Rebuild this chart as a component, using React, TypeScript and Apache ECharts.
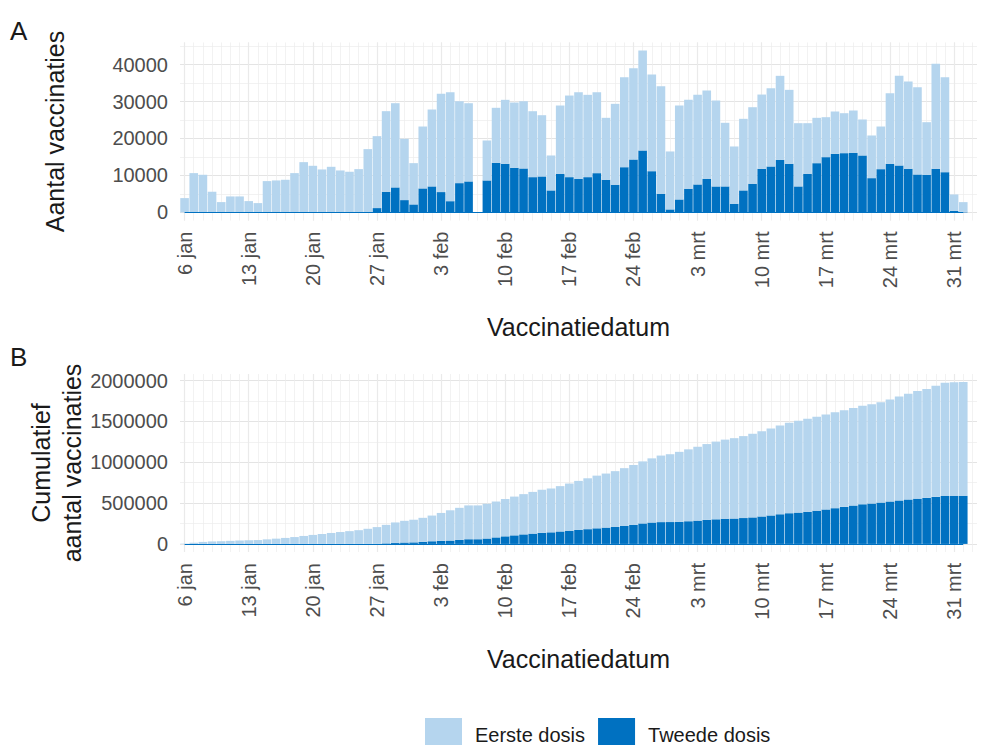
import React, { useEffect, useRef } from 'react';
import * as echarts from 'echarts';

// Categories: consecutive days from 6 jan 2021; the last day (2 apr) is empty
const START_DATE = Date.UTC(2021, 0, 6);
const MONTHS = ['jan', 'feb', 'mrt', 'apr'];
const NUM_DAYS = 87;
const dayLabel = (i: number) => {
  const d = new Date(START_DATE + i * 86400000);
  return `${d.getUTCDate()} ${MONTHS[d.getUTCMonth()]}`;
};
const days = Array.from({ length: NUM_DAYS }, (_, i) => dayLabel(i));

// Daily values (6 jan .. 1 apr)
const eersteDosis = [
  3870, 10630, 10180, 5590, 2790, 4320, 4320, 3060, 2520, 8470, 8650, 8830, 10630, 13600, 12610, 11620, 12340, 11350, 11000, 11710, 17120,
  19460, 21800, 22790, 16580, 11170, 16750, 20810, 26590, 29460, 22160, 21160,
  0,
  10810, 14870, 17300, 17650, 18190, 17840, 16570, 9450, 18460, 22080, 23400, 22270, 21890, 16750, 21890, 24330, 24680, 27020, 26140, 29090, 15680,
  25410, 24050, 24240, 23860, 23240, 17210, 15490, 19370, 20700, 20080, 21160, 22710, 20000, 17110, 13680, 12270, 10810, 11440, 10810, 11430, 9730,
  11540, 11540, 19080, 24250, 23600, 23590, 14220, 28380, 25680, 4460, 2630,
];
const tweedeDosis = [
  0, 0, 0, 0, 0, 0, 0, 0, 0, 0, 0, 0, 0, 0, 0, 0, 0, 0, 0, 0, 0,
  1170, 5590, 6760, 3330, 2160, 6490, 7030, 5490, 3050, 7920, 8380,
  0,
  8650, 13430, 13160, 12080, 11890, 9540, 9730, 5950, 10460, 9540, 9110, 9540, 10620, 8840, 7490, 12240, 14320, 16760, 11160, 5050, 810,
  3510, 6410, 7570, 9110, 7030, 7030, 2350, 5950, 7760, 11810, 12430, 14240, 13160, 7030, 10460, 13320, 14950, 15860, 16030, 16140, 15410,
  9270, 11700, 13160, 12700, 11810, 10270, 10190, 11810, 10890, 400, 150,
];

// Tick positions
const xTickDays = [0, 7, 14, 21, 28, 35, 42, 49, 56, 63, 70, 77, 84];
const yTicksA = [0, 10000, 20000, 30000, 40000];
const yMinorA = [5000, 15000, 25000, 35000, 45000];
const yTicksB = [0, 500000, 1000000, 1500000, 2000000];
const yMinorB = [250000, 750000, 1250000, 1750000];

const FONT = "'Liberation Sans', Arial, Helvetica, sans-serif";
const LIGHT = '#B5D5EE';
const DARK = '#0071C1';
const GRID_MAJOR = '#E4E4E4';
const GRID_MINOR = '#EDEDED';
const LABEL = '#4D4D4D';
const TITLE = '#1A1A1A';

function cumulative(arr: number[]) {
  let s = 0;
  return arr.map((v) => (s += v));
}

export default function App() {
  const ref = useRef<HTMLDivElement>(null);

  useEffect(() => {
    if (!ref.current) return;
    const chart = echarts.init(ref.current, undefined, { renderer: 'svg' });
    const allDays = Array.from({ length: NUM_DAYS }, (_, i) => i);

    const cumEerste = cumulative(eersteDosis);
    const cumTweede = cumulative(tweedeDosis);

    const grids = [
      { left: 180, top: 42.5, width: 797, height: 178 },
      { left: 180, top: 374, width: 797, height: 178 },
    ];

    // category axis carrying the bars (invisible)
    const xCat = (g: number) => ({
      type: 'category',
      gridIndex: g,
      data: days,
      boundaryGap: true,
      position: 'bottom',
      axisLine: { show: false },
      axisTick: { show: false },
      axisLabel: { show: false },
      splitLine: { show: false },
    });
    // value axis aligned with the categories, carrying labels and weekly grid lines
    const xMajor = (g: number) => ({
      type: 'value',
      gridIndex: g,
      min: -0.5,
      max: NUM_DAYS - 0.5,
      position: 'bottom',
      axisLine: { show: false },
      axisTick: { show: false, customValues: xTickDays },
      axisLabel: {
        customValues: xTickDays,
        rotate: 90,
        formatter: (v: number) => days[Math.round(v)],
        fontSize: 20,
        color: LABEL,
        fontFamily: FONT,
        margin: 11,
      },
      splitLine: { show: true, lineStyle: { color: GRID_MAJOR, width: 1.2 } },
      name: 'Vaccinatiedatum',
      nameLocation: 'middle',
      nameGap: 94,
      nameMoveOverlap: false,
      nameTextStyle: { fontSize: 25, color: TITLE, fontFamily: FONT },
    });
    const xMinor = (g: number) => ({
      type: 'value',
      gridIndex: g,
      min: -0.5,
      max: NUM_DAYS - 0.5,
      position: 'bottom',
      axisLine: { show: false },
      axisTick: { show: false, customValues: allDays },
      axisLabel: { show: false },
      splitLine: { show: true, lineStyle: { color: GRID_MINOR, width: 0.7 } },
    });

    const yMain = (g: number, min: number, max: number, ticks: number[], name: string, gap: number) => ({
      type: 'value',
      gridIndex: g,
      min,
      max,
      position: 'left',
      axisLine: { show: false },
      axisTick: { show: false, customValues: ticks },
      axisLabel: {
        customValues: ticks,
        formatter: (v: number) => String(v),
        fontSize: 20,
        color: LABEL,
        fontFamily: FONT,
        margin: 12,
      },
      splitLine: { show: true, lineStyle: { color: GRID_MAJOR, width: 1.2 } },
      name,
      nameLocation: 'middle',
      nameGap: gap,
      nameMoveOverlap: false,
      nameTextStyle: { fontSize: 25, color: TITLE, fontFamily: FONT, lineHeight: 31 },
    });
    const yMinor = (g: number, min: number, max: number, ticks: number[]) => ({
      type: 'value',
      gridIndex: g,
      min,
      max,
      position: 'right',
      axisLine: { show: false },
      axisTick: { show: false, customValues: ticks },
      axisLabel: { show: false },
      splitLine: { show: true, lineStyle: { color: GRID_MINOR, width: 0.7 } },
    });

    const zeroLine = {
      silent: true,
      symbol: 'none',
      label: { show: false },
      lineStyle: { color: DARK, width: 1, type: 'solid' },
      data: [[{ coord: [days[0], 0] }, { coord: [days[eersteDosis.length - 1], 0] }]],
    };

    const barSeries = (name: string, data: number[], xi: number, yi: number, stack: string, color: string, mark?: any) => ({
      type: 'bar',
      name,
      xAxisIndex: xi,
      yAxisIndex: yi,
      stack,
      barCategoryGap: '6%',
      data,
      itemStyle: { color },
      ...(mark ? { markLine: mark } : {}),
    });

    chart.setOption({
      animation: false,
      textStyle: { fontFamily: FONT },
      grid: grids,
      xAxis: [xCat(0), xMajor(0), xMinor(0), xCat(1), xMajor(1), xMinor(1)],
      yAxis: [
        yMain(0, -2190, 45970, yTicksA, 'Aantal vaccinaties', 110),
        yMinor(0, -2190, 45970, yMinorA),
        yMain(1, -99000, 2080000, yTicksB, 'Cumulatief\naantal vaccinaties', 93),
        yMinor(1, -99000, 2080000, yMinorB),
      ],
      legend: {
        top: 713,
        left: 420,
        itemWidth: 37,
        itemHeight: 34,
        itemGap: 13,
        icon: 'rect',
        data: ['Eerste dosis', 'Tweede dosis'],
        textStyle: { fontSize: 20, color: TITLE, fontFamily: FONT, padding: [0, 0, 0, 8] },
      },
      graphic: [
        { type: 'text', left: 10, top: 18, style: { text: 'A', fontSize: 26, fill: TITLE, fontFamily: FONT } },
        { type: 'text', left: 10, top: 344, style: { text: 'B', fontSize: 26, fill: TITLE, fontFamily: FONT } },
      ],
      series: [
        barSeries('Tweede dosis', tweedeDosis, 0, 0, 'A', DARK, zeroLine),
        barSeries('Eerste dosis', eersteDosis, 0, 0, 'A', LIGHT),
        barSeries('Tweede dosis', cumTweede, 3, 2, 'B', DARK, zeroLine),
        barSeries('Eerste dosis', cumEerste, 3, 2, 'B', LIGHT),
      ],
    } as any);

    return () => chart.dispose();
  }, []);

  return (
    <div
      ref={ref}
      style={{ position: 'fixed', left: 0, top: 0, width: 982, height: 745, background: '#fff' }}
    />
  );
}
